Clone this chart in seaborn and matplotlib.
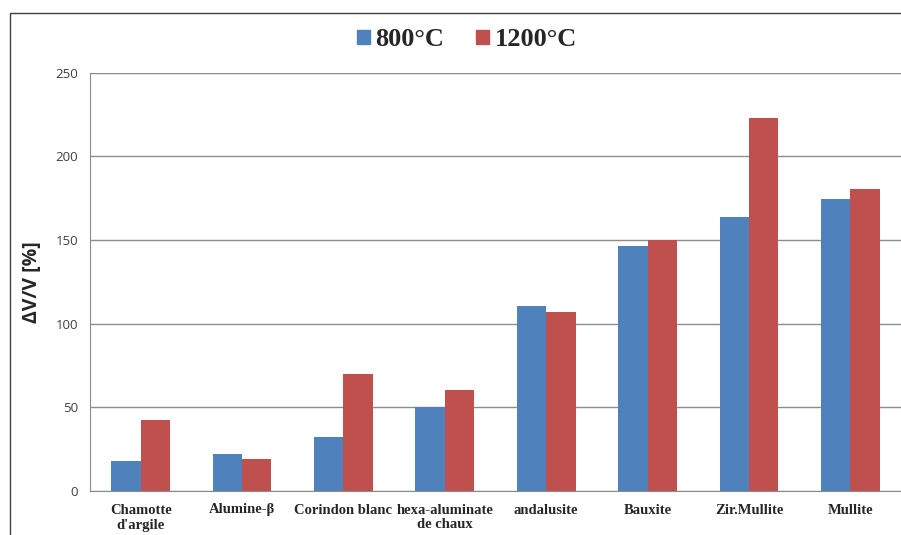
import pandas as pd
import numpy as np
import matplotlib.pyplot as plt
import seaborn as sns
from matplotlib.patches import Rectangle

#Data
materials = ["Chamotte\nd'argile", "Alumine-β", "Corindon blanc", "hexa-aluminate\nde chaux",
             "andalusite", "Bauxite", "Zir.Mullite", "Mullite"]
vals_800 = [17.7, 22.1, 32.4, 50.0, 110.5, 146.5, 163.9, 174.3]
vals_1200 = [42.6, 19.1, 69.8, 60.1, 107.0, 149.8, 222.7, 180.3]
series = ["800°C", "1200°C"]

#Long form for seaborn
df = pd.DataFrame({
    "material": materials * 2,
    "value": vals_800 + vals_1200,
    "temp": [series[0]] * len(materials) + [series[1]] * len(materials),
})

sns.set_style("white")
fig = plt.figure(figsize=(9.01, 5.35), dpi=100)
ax = fig.add_axes([90/901, 1 - 491/535, 1 - 90/901, (491 - 72.6)/535])

sns.barplot(data=df, x="material", y="value", hue="temp", order=materials,
            palette=["#4F81BD", "#C0504D"], width=0.58, saturation=1,
            linewidth=0, ax=ax, legend=False)

    #axes, grid and ticks
ax.set_ylim(0, 250)
ax.set_xlim(-0.5, len(materials) - 0.5)
ax.set_yticks(np.arange(0, 251, 50))
ax.yaxis.grid(True, color="#8c8c8c", linewidth=1)
ax.set_axisbelow(True)
for s in ["top", "right"]:
    ax.spines[s].set_visible(False)
for s in ["left", "bottom"]:
    ax.spines[s].set_color("#8c8c8c")
ax.set_xlabel("")
ax.set_ylabel("ΔV/V [%]", fontsize=14, fontweight="bold", family="Open Sans", labelpad=10)
ax.set_xticks(np.arange(len(materials)))
ax.set_xticklabels(materials, fontsize=10.5, fontweight="bold", family="Liberation Serif")
ax.set_xticks(np.arange(len(materials)) - 0.5, minor=True)
ax.tick_params(axis="x", which="major", length=0, pad=9)
ax.tick_params(axis="x", which="minor", length=5, color="#8c8c8c", direction="out")
ax.tick_params(axis="y", length=5, color="#8c8c8c", direction="out", labelsize=9.5, labelcolor="#404040")
for t in ax.get_yticklabels():
    t.set_family("Open Sans")

    #legend at the top
handles = [Rectangle((0, 0), 1, 1, color=c) for c in ["#4F81BD", "#C0504D"]]
fig.legend(handles, series, loc="center", bbox_to_anchor=(467/901, 1 - 40/535), ncol=2,
           frameon=False, prop={"family": "Liberation Serif", "weight": "bold", "size": 19},
           handlelength=0.5, handleheight=0.42, handletextpad=0.2, columnspacing=1.2,
           borderaxespad=0, borderpad=0)

    #outer chart frame
fig.add_artist(Rectangle((10/901, -0.1), 1.2, 1 - 13/535 + 0.1, transform=fig.transFigure,
                         fill=False, edgecolor="#404040", linewidth=1))

fig.savefig("out.png", dpi=100)
